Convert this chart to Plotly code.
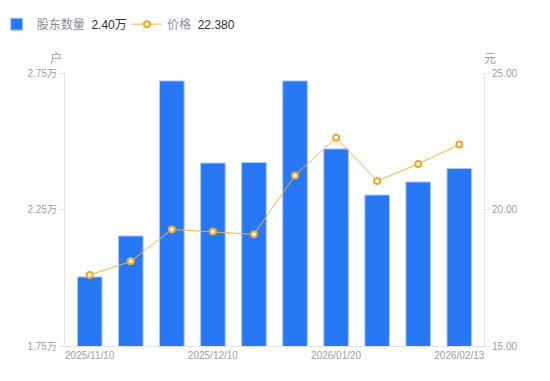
import plotly.graph_objects as go

dates = ["2025/11/10", "2025/11/20", "2025/11/30", "2025/12/10", "2025/12/20",
         "2025/12/31", "2026/01/20", "2026/01/31", "2026/02/10", "2026/02/13"]
holders = [20030, 21530, 27210, 24200, 24220, 27210, 24720, 23030, 23510, 24000]
prices = [17.60, 18.10, 19.27, 19.19, 19.09, 21.25, 22.63, 21.04, 21.67, 22.38]

shown_dates = ["2025/11/10", "2025/12/10", "2026/01/20", "2026/02/13"]
left_ticks = [17500, 22500, 27500]
left_labels = ["1.75万", "2.25万", "2.75万"]
right_ticks = [15, 20, 25]
right_labels = ["15.00", "20.00", "25.00"]

FONT = "Liberation Sans, Noto Sans CJK SC, sans-serif"
GRAY = "#9a9cab"
AXIS = "#e3e4e8"

fig = go.Figure()
fig.add_trace(go.Bar(
    x=dates, y=holders,
    name='<span style="color:#8a8d99">股东数量</span>  <span style="color:#333333">2.40万</span>',
    marker=dict(color="#2878f5", line=dict(color="#a9c9fb", width=1)),
    width=0.6, yaxis="y", legend="legend"))
fig.add_trace(go.Scatter(
    x=dates, y=prices, mode="lines+markers",
    name='<span style="color:#8a8d99">价格</span>  <span style="color:#333333">22.380</span>',
    line=dict(color="#f8b43c", width=1),
    marker=dict(symbol="circle", size=6, color="#ffffff",
                line=dict(color="#f5a623", width=2)),
    yaxis="y2", legend="legend2"))

legend_common = dict(orientation="h", xanchor="left", y=1.179, yanchor="middle",
                     font=dict(size=12, family=FONT), itemwidth=30,
                     bgcolor="rgba(0,0,0,0)")

fig.update_layout(
    width=550, height=381,
    margin=dict(l=65, r=66, t=73, b=35, autoexpand=False),
    plot_bgcolor="white", paper_bgcolor="white",
    font=dict(family=FONT, size=10, color=GRAY),
    showlegend=True,
    legend=dict(x=-0.163, **legend_common),
    legend2=dict(x=0.148, **legend_common),
    bargap=0.4,
    xaxis=dict(type="category", tickmode="array", tickvals=shown_dates, ticktext=shown_dates,
               showline=True, linecolor=AXIS, linewidth=1, ticks="", showgrid=False,
               tickfont=dict(size=10, color=GRAY), zeroline=False),
    yaxis=dict(range=[17500, 27500], tickvals=left_ticks, ticktext=left_labels,
               showline=True, linecolor=AXIS, linewidth=1, ticks="outside", ticklen=5,
               tickcolor=AXIS, showgrid=False, zeroline=False,
               tickfont=dict(size=10, color=GRAY)),
    yaxis2=dict(range=[15, 25], tickvals=right_ticks, ticktext=right_labels,
                overlaying="y", side="right", showline=True, linecolor=AXIS, linewidth=1,
                ticks="outside", ticklen=5, tickcolor=AXIS, showgrid=False, zeroline=False,
                tickfont=dict(size=10, color=GRAY)),
    annotations=[
        dict(text="户", xref="paper", yref="paper", x=-0.022, y=1.02, xanchor="center",
             yanchor="bottom", showarrow=False, font=dict(size=12, color=GRAY)),
        dict(text="元", xref="paper", yref="paper", x=1.015, y=1.02, xanchor="center",
             yanchor="bottom", showarrow=False, font=dict(size=12, color=GRAY)),
    ],
)

fig.write_html("out.html", config={"displayModeBar": False},
               post_script="document.body.style.margin='0';")
